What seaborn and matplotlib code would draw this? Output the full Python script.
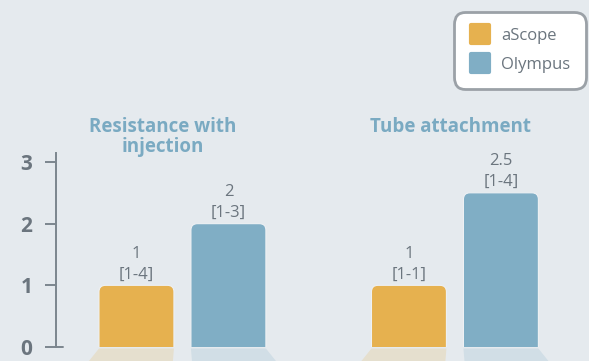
import matplotlib
matplotlib.use("Agg")
import matplotlib.pyplot as plt
import seaborn as sns
import pandas as pd
from matplotlib.patches import FancyBboxPatch, Polygon
from matplotlib.lines import Line2D
from matplotlib.markers import MarkerStyle
from matplotlib.colors import to_rgb

# ---- data -------------------------------------------------------------
categories = ["Resistance with\ninjection", "Tube attachment"]
devices = ["aScope", "Olympus"]
ascope_median = [1, 1]
olympus_median = [2, 2.5]
ascope_iqr = ["[1-4]", "[1-1]"]
olympus_iqr = ["[1-3]", "[1-4]"]
yticks = [0, 1, 2, 3]

palette = {"aScope": "#e6b14f", "Olympus": "#80aec5"}
BG = "#e5eaee"
GREY = "#6b757e"
AXIS = "#7c868e"
TITLE = "#7aaac2"

df = pd.DataFrame({
    "category": categories * 2,
    "device": [devices[0]] * 2 + [devices[1]] * 2,
    "median": ascope_median + olympus_median,
    "iqr": ascope_iqr + olympus_iqr,
})

sns.set_theme(style="white")
plt.rcParams["font.family"] = ["Open Sans", "DejaVu Sans"]

W, H = 589, 361
fig = plt.figure(figsize=(W / 100, H / 100), dpi=100, facecolor=BG)
ax = fig.add_axes([56 / W, 14 / H, (W - 56) / W, 347 / H])
ax.set_facecolor(BG)

sns.barplot(data=df, x="category", y="median", hue="device", palette=palette,
            hue_order=devices, order=categories, width=0.675, gap=0.185,
            saturation=1, legend=False, ax=ax)

ax.set_xlim(-0.464, 1.492)
ax.set_ylim(0, 5.627)
fig.canvas.draw()

# pixel size of one data unit, used to keep rounded corners circular
p0 = ax.transData.transform((0, 0))
p1 = ax.transData.transform((1, 1))
px_x, px_y = p1[0] - p0[0], p1[1] - p0[1]
radius_px = 6.5
r_x = radius_px / px_x
aspect = px_x / px_y


def blend(c, a):
    c, b = to_rgb(c), to_rgb(BG)
    return tuple(a * ci + (1 - a) * bi for ci, bi in zip(c, b))


for container, device in zip(ax.containers, devices):
    sub = df[df["device"] == device].set_index("category")
    for bar, cat in zip(container, categories):
        x, w, h = bar.get_x(), bar.get_width(), bar.get_height()
        color = palette[device]
        bar.set_visible(False)
        r_y = r_x * aspect
        rounded = FancyBboxPatch((x, -r_y), w, h + r_y,
                                 boxstyle=f"round,pad=0,rounding_size={r_x}",
                                 mutation_aspect=aspect, facecolor=color,
                                 edgecolor=blend("white", 0.35), linewidth=0.8,
                                 zorder=3)
        ax.add_patch(rounded)

        # soft floor reflection that fans out from the group centre
        gc = categories.index(cat)
        k = 0.12
        depth = 14 / px_y
        gap = 1.5 / px_y
        xl, xr = x, x + w
        poly = Polygon([(xl, -gap), (xr, -gap),
                        (xr + (xr - gc) * k, -depth), (xl + (xl - gc) * k, -depth)],
                       closed=True, facecolor=blend(color, 0.2), edgecolor="none",
                       clip_on=False, zorder=2)
        ax.add_patch(poly)

        ax.annotate(f"{sub.loc[cat, 'median']:g}\n{sub.loc[cat, 'iqr']}",
                    xy=(x + w / 2, h), xytext=(0, 2), textcoords="offset points",
                    ha="center", va="bottom", fontsize=12, color=GREY,
                    fontweight="normal", linespacing=1.4, zorder=4)

# group titles above each pair of bars (nudged slightly left of the pair)
title_nudge = [-0.072, -0.018]
for i, (dx, cat) in enumerate(zip(title_nudge, categories)):
    ax.text(i + dx, 3.73, cat, ha="center", va="top", fontsize=13.5,
            fontweight="bold", color=TITLE, linespacing=1.0)

# axis styling
for side in ["top", "right", "bottom"]:
    ax.spines[side].set_visible(False)
ax.spines["left"].set_bounds(0, 3.15)
ax.spines["left"].set_color(AXIS)
ax.spines["left"].set_linewidth(1.4)
ax.set_xticks([])
ax.set_xlabel("")
ax.set_ylabel("")
ax.set_yticks(yticks)
ax.set_yticklabels([str(t) for t in yticks])
ax.tick_params(axis="y", length=8, width=1.4, color=AXIS, labelsize=15,
               labelcolor=GREY, pad=9, left=True)
for lbl in ax.get_yticklabels():
    lbl.set_fontweight("bold")
ax.plot([0, 7 / ((W - 56))], [0, 0], transform=ax.get_yaxis_transform(),
        color=AXIS, lw=1.4, clip_on=False, zorder=5)

# legend with rounded swatches
handles = [Line2D([], [], ls="", marker=MarkerStyle("s", joinstyle="round"),
                  markersize=13, markerfacecolor=palette[d],
                  markeredgecolor=palette[d], markeredgewidth=3)
           for d in devices]
leg = fig.legend(handles, devices, loc="upper right",
                 bbox_to_anchor=(586 / W, 1 - 12 / H), fontsize=12,
                 labelcolor=GREY, frameon=True, fancybox=True, framealpha=1,
                 facecolor="white", edgecolor="#9ba1a7", borderpad=0.95,
                 handletextpad=0.6, labelspacing=0.8, handlelength=1.3,
                 borderaxespad=0)
leg.get_frame().set_linewidth(2)
leg.get_frame().set_boxstyle("round,pad=0,rounding_size=0.7")

fig.savefig("out.png", dpi=100, facecolor=BG)
